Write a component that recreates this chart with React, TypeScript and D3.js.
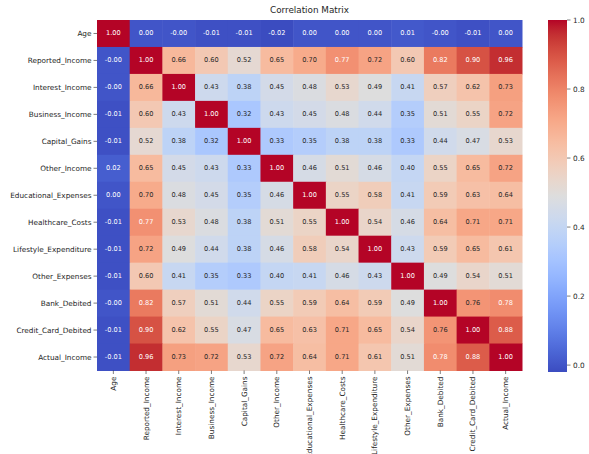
import React from "react";
import * as d3 from "d3";

const labels = [
  "Age", "Reported_Income", "Interest_Income", "Business_Income", "Capital_Gains",
  "Other_Income", "Educational_Expenses", "Healthcare_Costs", "Lifestyle_Expenditure",
  "Other_Expenses", "Bank_Debited", "Credit_Card_Debited", "Actual_Income",
];

const rowAge = [1.0, 0.0, -0.0, -0.01, -0.01, -0.02, 0.0, 0.0, 0.0, 0.01, -0.0, -0.01, 0.0];
const rowReported = [-0.0, 1.0, 0.66, 0.6, 0.52, 0.65, 0.7, 0.77, 0.72, 0.6, 0.82, 0.9, 0.96];
const rowInterest = [-0.0, 0.66, 1.0, 0.43, 0.38, 0.45, 0.48, 0.53, 0.49, 0.41, 0.57, 0.62, 0.73];
const rowBusiness = [-0.01, 0.6, 0.43, 1.0, 0.32, 0.43, 0.45, 0.48, 0.44, 0.35, 0.51, 0.55, 0.72];
const rowCapital = [-0.01, 0.52, 0.38, 0.32, 1.0, 0.33, 0.35, 0.38, 0.38, 0.33, 0.44, 0.47, 0.53];
const rowOtherIncome = [0.02, 0.65, 0.45, 0.43, 0.33, 1.0, 0.46, 0.51, 0.46, 0.4, 0.55, 0.65, 0.72];
const rowEducational = [0.0, 0.7, 0.48, 0.45, 0.35, 0.46, 1.0, 0.55, 0.58, 0.41, 0.59, 0.63, 0.64];
const rowHealthcare = [-0.01, 0.77, 0.53, 0.48, 0.38, 0.51, 0.55, 1.0, 0.54, 0.46, 0.64, 0.71, 0.71];
const rowLifestyle = [-0.01, 0.72, 0.49, 0.44, 0.38, 0.46, 0.58, 0.54, 1.0, 0.43, 0.59, 0.65, 0.61];
const rowOtherExp = [-0.01, 0.6, 0.41, 0.35, 0.33, 0.4, 0.41, 0.46, 0.43, 1.0, 0.49, 0.54, 0.51];
const rowBank = [-0.0, 0.82, 0.57, 0.51, 0.44, 0.55, 0.59, 0.64, 0.59, 0.49, 1.0, 0.76, 0.78];
const rowCredit = [-0.01, 0.9, 0.62, 0.55, 0.47, 0.65, 0.63, 0.71, 0.65, 0.54, 0.76, 1.0, 0.88];
const rowActual = [-0.01, 0.96, 0.73, 0.72, 0.53, 0.72, 0.64, 0.71, 0.61, 0.51, 0.78, 0.88, 1.0];

const matrix = [
  rowAge, rowReported, rowInterest, rowBusiness, rowCapital, rowOtherIncome,
  rowEducational, rowHealthcare, rowLifestyle, rowOtherExp, rowBank, rowCredit, rowActual,
];

const cbTicks = [0.0, 0.2, 0.4, 0.6, 0.8, 1.0];

const coolwarmStops = [
  [59, 76, 192], [68, 90, 204], [77, 104, 215], [87, 117, 225], [98, 130, 234],
  [108, 142, 241], [119, 154, 247], [130, 165, 251], [141, 176, 254], [152, 185, 255],
  [163, 194, 255], [174, 201, 253], [184, 208, 249], [194, 213, 244], [204, 217, 238],
  [213, 219, 230], [221, 221, 221], [229, 216, 209], [236, 211, 197], [241, 204, 184],
  [245, 196, 172], [247, 187, 159], [247, 177, 147], [247, 166, 134], [244, 154, 123],
  [241, 141, 111], [236, 127, 99], [229, 112, 89], [222, 96, 77], [213, 80, 66],
  [203, 62, 56], [192, 40, 47], [180, 4, 38],
];
const coolwarm = d3.piecewise(
  d3.interpolateRgb,
  coolwarmStops.map((c) => `rgb(${c[0]},${c[1]},${c[2]})`)
);

function lum(color: string) {
  const c = d3.rgb(color);
  const f = (v: number) => {
    const s = v / 255;
    return s <= 0.03928 ? s / 12.92 : Math.pow((s + 0.055) / 1.055, 2.4);
  };
  return 0.2126 * f(c.r) + 0.7152 * f(c.g) + 0.0722 * f(c.b);
}

export default function App() {
  const W = 589, H = 454;
  const left = 97, right = 522, top = 20, bottom = 370.5;
  const vmin = d3.min(matrix.flat()) as number;
  const vmax = 1.0;
  const color = d3.scaleSequential(coolwarm).domain([vmin, vmax]);
  const x = d3.scaleBand<string>().domain(labels).range([left, right]);
  const y = d3.scaleBand<string>().domain(labels).range([top, bottom]);
  const cbX = 548, cbW = 19, cbTop = 20, cbBottom = 372;
  const cbY = d3.scaleLinear().domain([vmin, vmax]).range([cbBottom, cbTop]);
  const gradStops = d3.range(0, 1.0001, 0.02);
  const font = "DejaVu Sans, sans-serif";
  const tickFs = 7.3;

  return (
    <svg width={W} height={H} style={{ position: "absolute", left: 0, top: 0 }} fontFamily={font}>
      <defs>
        <linearGradient id="cb" x1="0" y1="1" x2="0" y2="0">
          {gradStops.map((t) => (
            <stop key={t} offset={t} stopColor={coolwarm(t)} />
          ))}
        </linearGradient>
      </defs>
      <rect x={0} y={0} width={W} height={H} fill="#fff" />
      <text x={(left + right) / 2} y={13} textAnchor="middle" fontSize={8.8} fill="#262626">
        Correlation Matrix
      </text>
      {matrix.map((row, i) =>
        row.map((v, j) => {
          const fill = color(v);
          const tc = lum(fill) > 0.408 ? "#262626" : "#ffffff";
          return (
            <g key={`${i}-${j}`}>
              <rect
                x={x(labels[j])}
                y={y(labels[i])}
                width={x.bandwidth() + 0.5}
                height={y.bandwidth() + 0.5}
                fill={fill}
              />
              <text
                x={(x(labels[j]) as number) + x.bandwidth() / 2}
                y={(y(labels[i]) as number) + y.bandwidth() / 2}
                textAnchor="middle"
                dominantBaseline="central"
                fontSize={6.6}
                fill={tc}
              >
                {(Object.is(v, -0) ? "-" : "") + v.toFixed(2)}
              </text>
            </g>
          );
        })
      )}
      {labels.map((l) => {
        const cy = (y(l) as number) + y.bandwidth() / 2;
        return (
          <g key={"y" + l}>
            <line x1={left - 3.5} x2={left} y1={cy} y2={cy} stroke="#262626" strokeWidth={0.6} />
            <text x={left - 5.5} y={cy} textAnchor="end" dominantBaseline="central" fontSize={tickFs} fill="#262626">
              {l}
            </text>
          </g>
        );
      })}
      {labels.map((l) => {
        const cx = (x(l) as number) + x.bandwidth() / 2;
        return (
          <g key={"x" + l}>
            <line x1={cx} x2={cx} y1={bottom} y2={bottom + 3.5} stroke="#262626" strokeWidth={0.6} />
            <text
              transform={`translate(${cx},${bottom + 6}) rotate(-90)`}
              textAnchor="end"
              dominantBaseline="central"
              fontSize={tickFs}
              fill="#262626"
            >
              {l}
            </text>
          </g>
        );
      })}
      <rect x={cbX} y={cbTop} width={cbW} height={cbBottom - cbTop} fill="url(#cb)" />
      {cbTicks.map((t) => (
        <g key={"cb" + t}>
          <line x1={cbX + cbW} x2={cbX + cbW + 3.5} y1={cbY(t)} y2={cbY(t)} stroke="#262626" strokeWidth={0.6} />
          <text x={cbX + cbW + 6} y={cbY(t)} dominantBaseline="central" fontSize={tickFs} fill="#262626">
            {t.toFixed(1)}
          </text>
        </g>
      ))}
    </svg>
  );
}
